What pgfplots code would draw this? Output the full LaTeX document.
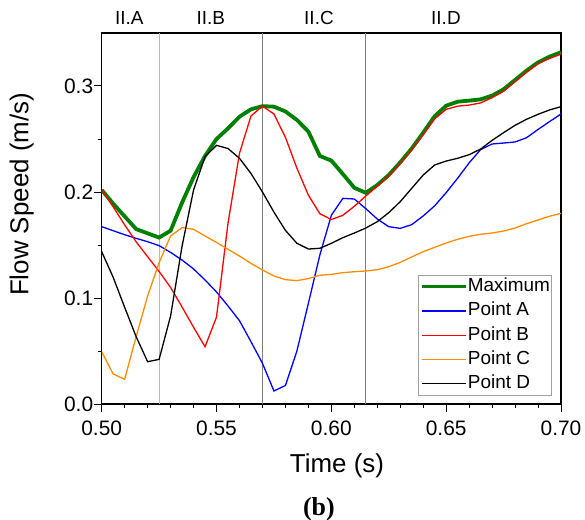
\documentclass[border=0pt]{standalone}
\usepackage{pgfplots}
\pgfplotsset{compat=1.18}
\usepackage{fontspec}
\setmainfont{Liberation Sans}
\newfontfamily\timesfont{Liberation Serif}
\definecolor{cgreen}{RGB}{0,128,0}
\definecolor{corange}{RGB}{255,140,0}
\definecolor{cblue}{RGB}{0,0,255}
\definecolor{cred}{RGB}{255,0,0}
\definecolor{lgray}{RGB}{160,160,160}
\begin{document}
\begin{tikzpicture}
\useasboundingbox (-101.7bp,-116bp) rectangle (483.3bp,404bp);
\begin{axis}[
  width=459.3bp, height=371bp, scale only axis,
  xmin=0.5, xmax=0.7, ymin=0, ymax=0.35,
  xtick={0.50,0.55,0.60,0.65,0.70}, minor x tick num=4,
  ytick={0,0.1,0.2,0.3}, minor y tick num=1,
  tick align=outside, xtick pos=left, ytick pos=left,
  major tick length=8bp, minor tick length=4bp,
  axis line style={line width=1.2bp},
  every tick/.style={black, line width=1bp},
  /pgf/number format/assume math mode=true,
  tick label style={font=\fontsize{21}{21}\selectfont},
  xticklabel style={/pgf/number format/fixed, /pgf/number format/fixed zerofill, /pgf/number format/precision=2, yshift=-5bp},
  yticklabel style={/pgf/number format/fixed, /pgf/number format/fixed zerofill, /pgf/number format/precision=1, xshift=3bp},
  scaled ticks=false,
  xlabel={Time (s)},
  xlabel style={font=\fontsize{26}{26}\selectfont, at={(axis description cs:0.5123,0)}, anchor=center, yshift=-62bp},
  ylabel={Flow Speed (m/s)},
  ylabel style={font=\fontsize{26}{26}\selectfont, at={(axis description cs:-0.1740,0.565)}, anchor=center},
  legend cell align=left,
  legend style={at={(axis description cs:0.9797,0.0243)}, anchor=south east, draw=lgray,
    font=\fontsize{19}{19}\selectfont, inner xsep=1.5bp, inner ysep=2.5bp, row sep=7.3bp,
    nodes={inner sep=0pt, text height=13.5bp, text depth=3.5bp}},
  legend image code/.code={\draw[#1] (0bp,0bp) -- (44bp,0bp);},
  legend style={column sep=0bp, /tikz/every even column/.append style={column sep=5bp}},
  clip=true,
]
\addplot[forget plot, draw=gray!55, line width=1.2bp] coordinates {(0.525,0) (0.525,0.35)};
\addplot[forget plot, draw=gray, line width=0.8bp] coordinates {(0.570,0) (0.570,0.35)};
\addplot[forget plot, draw=gray, line width=0.8bp] coordinates {(0.615,0) (0.615,0.35)};

\addplot[draw=cgreen, line width=3.8bp] coordinates {
(0.500,0.202) (0.505,0.189) (0.510,0.177) (0.515,0.165) (0.520,0.161) (0.525,0.157)
(0.530,0.1635) (0.535,0.190) (0.540,0.214) (0.545,0.234) (0.550,0.250) (0.555,0.260)
(0.560,0.271) (0.565,0.278) (0.570,0.281) (0.575,0.2805) (0.580,0.276) (0.585,0.268)
(0.590,0.257) (0.595,0.234) (0.600,0.2296) (0.605,0.217) (0.610,0.204) (0.615,0.1992)
(0.620,0.2066) (0.625,0.216) (0.630,0.228) (0.635,0.241) (0.640,0.256) (0.645,0.2715)
(0.650,0.2814) (0.655,0.2852) (0.660,0.2862) (0.665,0.2874) (0.670,0.2909) (0.675,0.2969)
(0.680,0.3057) (0.685,0.3145) (0.690,0.3223) (0.695,0.3277) (0.700,0.3318)};
\addlegendentry{Maximum}

\addplot[draw=cblue, line width=1.3bp] coordinates {
(0.500,0.1673) (0.505,0.1635) (0.510,0.1597) (0.515,0.1563) (0.520,0.1531) (0.525,0.1494)
(0.530,0.143) (0.535,0.1358) (0.540,0.1274) (0.545,0.117) (0.550,0.1057) (0.555,0.0925)
(0.560,0.0786) (0.565,0.0588) (0.570,0.0384) (0.575,0.0123) (0.580,0.0175) (0.585,0.050)
(0.590,0.095) (0.595,0.1406) (0.600,0.178) (0.605,0.194) (0.610,0.1934) (0.615,0.1843)
(0.620,0.1745) (0.625,0.1673) (0.630,0.1657) (0.635,0.1692) (0.640,0.1774) (0.645,0.187)
(0.650,0.1994) (0.655,0.213) (0.660,0.2275) (0.665,0.240) (0.670,0.2453) (0.675,0.2462)
(0.680,0.2472) (0.685,0.2512) (0.690,0.259) (0.695,0.2664) (0.700,0.2736)};
\addlegendentry{Point A}

\addplot[draw=cred, line width=1.3bp] coordinates {
(0.500,0.202) (0.505,0.186) (0.510,0.169) (0.515,0.153) (0.520,0.139) (0.525,0.125)
(0.530,0.110) (0.535,0.0915) (0.540,0.0724) (0.545,0.054) (0.550,0.082) (0.555,0.1705)
(0.560,0.2365) (0.565,0.2717) (0.570,0.281) (0.575,0.2736) (0.580,0.2516) (0.585,0.2225)
(0.590,0.197) (0.595,0.1795) (0.600,0.174) (0.605,0.178) (0.610,0.1865) (0.615,0.1962)
(0.620,0.2055) (0.625,0.215) (0.630,0.227) (0.635,0.240) (0.640,0.254) (0.645,0.269)
(0.650,0.278) (0.655,0.281) (0.660,0.282) (0.665,0.284) (0.670,0.289) (0.675,0.295)
(0.680,0.304) (0.685,0.313) (0.690,0.321) (0.695,0.326) (0.700,0.330)};
\addlegendentry{Point B}

\addplot[draw=corange, line width=1.3bp] coordinates {
(0.500,0.0494) (0.505,0.0283) (0.510,0.0233) (0.515,0.0635) (0.520,0.1019) (0.525,0.1333)
(0.530,0.1585) (0.535,0.1664) (0.540,0.1648) (0.545,0.1585) (0.550,0.1524) (0.555,0.146)
(0.560,0.1396) (0.565,0.1327) (0.570,0.1264) (0.575,0.1208) (0.580,0.1173) (0.585,0.1164)
(0.590,0.1183) (0.595,0.1214) (0.600,0.1223) (0.605,0.1239) (0.610,0.1248) (0.615,0.1255)
(0.620,0.1267) (0.625,0.1295) (0.630,0.1336) (0.635,0.1387) (0.640,0.1437) (0.645,0.1478)
(0.650,0.1519) (0.655,0.1554) (0.660,0.1582) (0.665,0.1601) (0.670,0.1613) (0.675,0.1632)
(0.680,0.166) (0.685,0.1701) (0.690,0.1736) (0.695,0.1771) (0.700,0.1799)};
\addlegendentry{Point C}

\addplot[draw=black, line width=1.3bp] coordinates {
(0.500,0.1437) (0.505,0.1195) (0.510,0.0912) (0.515,0.0635) (0.520,0.0399) (0.525,0.0421)
(0.530,0.083) (0.535,0.149) (0.540,0.2019) (0.545,0.2333) (0.550,0.2440) (0.555,0.2410)
(0.560,0.2318) (0.565,0.2175) (0.570,0.2000) (0.575,0.1810) (0.580,0.1638) (0.585,0.1516)
(0.590,0.1462) (0.595,0.1469) (0.600,0.1516) (0.605,0.1569) (0.610,0.1613) (0.615,0.166)
(0.620,0.172) (0.625,0.1805) (0.630,0.1909) (0.635,0.2035) (0.640,0.216) (0.645,0.2255)
(0.650,0.2292) (0.655,0.2318) (0.660,0.2352) (0.665,0.2405) (0.670,0.2487) (0.675,0.256)
(0.680,0.2629) (0.685,0.2686) (0.690,0.2733) (0.695,0.2774) (0.700,0.2805)};
\addlegendentry{Point D}
\end{axis}
\begin{axis}[
  width=459.3bp, height=371bp, scale only axis,
  xmin=0.5, xmax=0.7, ymin=0, ymax=0.35,
  hide axis, clip=false]
\node[font=\fontsize{19}{19}\selectfont] at (axis cs:0.5120,0.35) [yshift=15bp] {II.A};
\node[font=\fontsize{19}{19}\selectfont] at (axis cs:0.5475,0.35) [yshift=15bp] {II.B};
\node[font=\fontsize{19}{19}\selectfont] at (axis cs:0.5946,0.35) [yshift=15bp] {II.C};
\node[font=\fontsize{19}{19}\selectfont] at (axis cs:0.6499,0.35) [yshift=15bp] {II.D};
\node[font=\timesfont\bfseries\fontsize{26}{26}\selectfont, anchor=base] at (axis description cs:0.4728,0) [yshift=-111bp] {(b)};
\end{axis}
\end{tikzpicture}
\end{document}
